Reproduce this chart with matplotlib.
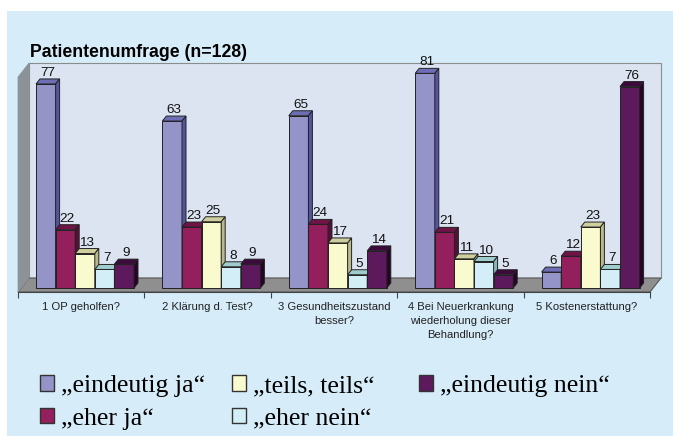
import numpy as np
import matplotlib.pyplot as plt
from matplotlib.patches import Polygon, Rectangle, Patch

# data
categories = ["1 OP geholfen?", "2 Klärung d. Test?", "3 Gesundheitszustand\nbesser?",
              "4 Bei Neuerkrankung\nwiederholung dieser\nBehandlung?", "5 Kostenerstattung?"]
series = ["„eindeutig ja“", "„eher ja“", "„teils, teils“", "„eher nein“", "„eindeutig nein“"]
eindeutig_ja = [77, 63, 65, 81, 6]
eher_ja = [22, 23, 24, 21, 12]
teils_teils = [13, 25, 17, 11, 23]
eher_nein = [7, 8, 5, 10, 7]
eindeutig_nein = [9, 9, 14, 5, 76]
values = [eindeutig_ja, eher_ja, teils_teils, eher_nein, eindeutig_nein]

# colours: front, top, side
front = ["#9494c8", "#931f5c", "#fafacf", "#d3eef7", "#5c1a5c"]
top = ["#6e6eb6", "#6e1446", "#cfcf9e", "#9fcccc", "#3c0a3c"]
side = ["#5454a0", "#55103a", "#b9b98b", "#88b6b8", "#260426"]

W, H = 673, 436
fig = plt.figure(figsize=(W / 100, H / 100), dpi=100, facecolor="white")
fig.add_artist(Rectangle((7 / W, 0), (W - 7) / W, (H - 11) / H, transform=fig.transFigure,
                         facecolor="#d6ecf9", edgecolor="none", zorder=0))

# front plane of the plot box in pixels
px_left, px_right, px_bottom, px_top = 18, 650, 292, 77
ax = fig.add_axes([px_left / W, (H - px_bottom) / H, (px_right - px_left) / W, (px_bottom - px_top) / H])
ax.set_facecolor("none")
n = len(categories)
ppu = 2.65  # pixels per unit on y
ylo = -(px_bottom - 288) / ppu
ax.set_xlim(0, n)
ax.set_ylim(ylo, ylo + (px_bottom - px_top) / ppu)
xpx = (px_right - px_left) / n  # pixels per category

def dx(p):
    return p / xpx

def dy(p):
    return p / ppu

# walls and floor (depth offset 11px right, 14px up)
wx, wy = dx(11), dy(14)
y0, y1 = ax.get_ylim()
ax.add_patch(Polygon([(wx, y0 + wy), (n + wx, y0 + wy), (n + wx, y1 + wy), (wx, y1 + wy)],
                     closed=True, facecolor="#dce4f2", edgecolor="#8c8c8c", lw=0.8, clip_on=False, zorder=0))
ax.add_patch(Polygon([(0, y0), (n, y0), (n + wx, y0 + wy), (wx, y0 + wy)],
                     closed=True, facecolor="#8f8f8f", edgecolor="#555555", lw=0.8, clip_on=False, zorder=0.5))
ax.add_patch(Polygon([(0, y0), (wx, y0 + wy), (wx, y1 + wy), (0, y1)],
                     closed=True, facecolor="#8b9399", edgecolor="#8b9399", lw=0.5, clip_on=False, zorder=0.5))

# 3D bars
bw = dx(19.6)
start = dx(18)
bdx, bdy = dx(4), dy(5)
idx = np.arange(n)
for i, vals in enumerate(values):
    x = idx + start + i * bw
    z = 2 + i
    ax.bar(x, vals, width=bw, align="edge", color=front[i], edgecolor="#222222", lw=0.7, zorder=z, clip_on=False)
    for xi, v in zip(x, vals):
        ax.add_patch(Polygon([(xi, v), (xi + bw, v), (xi + bw + bdx, v + bdy), (xi + bdx, v + bdy)],
                             closed=True, facecolor=top[i], edgecolor="#222222", lw=0.7, zorder=z, clip_on=False))
        ax.add_patch(Polygon([(xi + bw, 0), (xi + bw, v), (xi + bw + bdx, v + bdy), (xi + bw + bdx, bdy)],
                             closed=True, facecolor=side[i], edgecolor="#222222", lw=0.7, zorder=z, clip_on=False))
        ax.text(xi + bw / 2 + bdx / 2, v + bdy, str(v), ha="center", va="bottom",
                fontsize=9.7, family="Liberation Sans", color="#111111", zorder=10)

# axis
for s in ["top", "right", "left"]:
    ax.spines[s].set_visible(False)
ax.spines["bottom"].set_color("#444444")
ax.spines["bottom"].set_linewidth(0.8)
ax.set_yticks([])
ax.set_xticks(np.arange(n + 1))
ax.set_xticklabels([])
ax.tick_params(axis="x", which="major", length=4, width=0.8, color="#444444", direction="out")
ax.set_xticks(idx + 0.5, minor=True)
ax.set_xticklabels(categories, minor=True, fontsize=8.1, family="Liberation Sans", color="#222222",
                   linespacing=1.5)
ax.tick_params(axis="x", which="minor", length=0, pad=7.5)

fig.text(30 / W, (H - 57) / H, "Patientenumfrage (n=128)", fontsize=12.7, fontweight="bold",
         family="Liberation Sans", va="baseline", ha="left")

# legend, one block per column
handles = [Patch(facecolor=front[i], edgecolor="#333333", lw=1) for i in range(len(series))]
columns = [[0, 1], [2, 3], [4]]
col_x = [40, 232, 419]
for cols, cx in zip(columns, col_x):
    fig.legend([handles[k] for k in cols], [series[k] for k in cols], loc="upper left",
               bbox_to_anchor=(cx / W, (H - 375) / H), frameon=False,
               prop={"family": "Liberation Serif", "size": 18.5},
               handlelength=0.55, handleheight=0.55, handletextpad=0.25,
               labelspacing=0.42, borderaxespad=0, borderpad=0)

fig.savefig("out.png", dpi=100, facecolor="white")
